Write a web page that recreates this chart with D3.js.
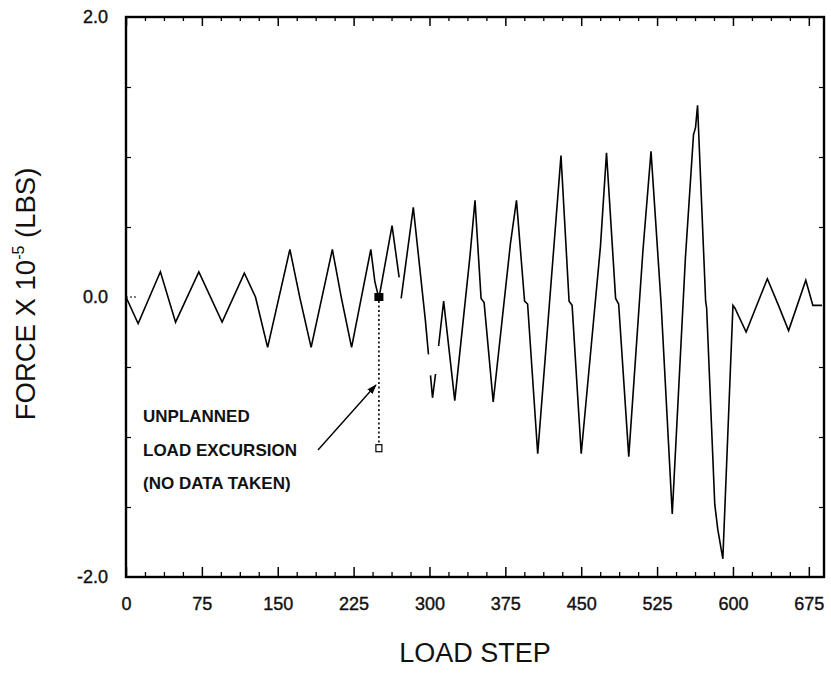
<!DOCTYPE html>
<html>
<head>
<meta charset="utf-8">
<script src="https://cdn.jsdelivr.net/npm/d3@7"></script>
<style>
body{margin:0;background:#fff;}
svg{display:block;font-family:"Liberation Sans",Arial,sans-serif;}
</style>
</head>
<body>
<svg id="chart" width="831" height="673"></svg>
<script>
var loadStep = [0,12,34,49,72,95,117,128,140,162,172,183,204,213,223,242,246,250,263,270,
    271,
    272,284,296,299,
    300,
    301,303,306,
    307.5,
    309,314,325,340,345,351,354,363,380,386,394,397,407,430,438,441,450,469,475,484,487,497,
    511,519,529,540,553,561,563,565,573,574,582,585,590,600,602,613,634,645,655,672,679,688];
var force = [0,-0.19,0.18,-0.18,0.18,-0.18,0.17,0,-0.36,0.34,-0.01,-0.36,0.34,-0.01,-0.36,0.34,0.11,-0.01,0.51,0.14,
    null,
    -0.01,0.64,-0.17,-0.41,
    null,
    -0.56,-0.72,-0.55,
    null,
    -0.35,-0.03,-0.74,0.29,0.69,-0.01,-0.04,-0.75,0.38,0.69,-0.03,-0.05,-1.12,1.01,-0.03,-0.06,-1.12,0.36,1.03,-0.01,-0.05,-1.14,
    0.33,1.04,-0.05,-1.55,0.28,1.16,1.21,1.37,-0.03,-0.08,-1.48,-1.66,-1.87,-0.06,-0.08,-0.25,0.13,-0.06,-0.24,0.12,-0.06,-0.06];
var xMajorTicks = [0,75,150,225,300,375,450,525,600,675];
var yLabelTicks = [-2,0,2];
var yMinorTicks = [-1.5,-1,-0.5,0.5,1,1.5];
var excursionStep = 250;
var excursionForce = [0,-1.08];
var noteLines = ["UNPLANNED","LOAD EXCURSION","(NO DATA TAKEN)"];

var svg = d3.select("#chart");
var pL = 126, pR = 824, pT = 17, pB = 577;
var x = d3.scaleLinear().domain([0,690]).range([pL,pR]);
var y = d3.scaleLinear().domain([-2,2]).range([pB,pT]);

var xMinorTicks = d3.range(0,691,18.75).filter(function(d){ return d % 75 !== 0; });

function noDomain(g){ g.select(".domain").remove(); }
function labelStyle(sel){
    sel.attr("font-size",18).attr("fill","#111").attr("font-family","Liberation Sans, Arial, sans-serif")
        .attr("stroke","#111").attr("stroke-width",0.4);
}

// bottom axis, ticks pointing in
svg.append("g").attr("transform","translate(0,"+pB+")")
    .call(d3.axisBottom(x).tickValues(xMajorTicks).tickSize(-10).tickPadding(20))
    .call(noDomain)
    .call(function(g){
        g.selectAll("text").call(labelStyle);
        g.selectAll("line").attr("stroke-width",1.5);
    });
svg.append("g").attr("transform","translate(0,"+pB+")")
    .call(d3.axisBottom(x).tickValues(xMinorTicks).tickSize(-5).tickFormat(""))
    .call(noDomain).selectAll("line").attr("stroke-width",1.3);

// top axis
svg.append("g").attr("transform","translate(0,"+pT+")")
    .call(d3.axisTop(x).tickValues(xMajorTicks).tickSize(-9).tickFormat(""))
    .call(noDomain).selectAll("line").attr("stroke-width",1.5);
svg.append("g").attr("transform","translate(0,"+pT+")")
    .call(d3.axisTop(x).tickValues(xMinorTicks).tickSize(-4).tickFormat(""))
    .call(noDomain).selectAll("line").attr("stroke-width",1.3);

// left axis labels and ticks
svg.append("g").attr("transform","translate("+pL+",0)")
    .call(d3.axisLeft(y).tickValues(yLabelTicks).tickSize(0).tickPadding(18)
        .tickFormat(function(d){ return d.toFixed(1); }))
    .call(noDomain)
    .selectAll("text").call(labelStyle);
svg.append("g").attr("transform","translate("+pL+",0)")
    .call(d3.axisLeft(y).tickValues(yMinorTicks).tickSize(-5).tickFormat(""))
    .call(noDomain).selectAll("line").attr("stroke-width",1.2);
svg.append("line")
    .attr("x1",pL).attr("x2",pL+11).attr("y1",y(0)).attr("y2",y(0))
    .attr("stroke","#000").attr("stroke-width",1).attr("stroke-dasharray","2,2");
svg.append("g").attr("transform","translate("+pR+",0)")
    .call(d3.axisRight(y).tickValues(yMinorTicks).tickSize(-5).tickFormat(""))
    .call(noDomain).selectAll("line").attr("stroke-width",1.2);

// frame
svg.append("rect")
    .attr("x",pL).attr("y",pT).attr("width",pR-pL).attr("height",pB-pT)
    .attr("fill","none").attr("stroke","#000").attr("stroke-width",2.4);

// trace
var pts = loadStep.map(function(s,i){ return {s:s, f:force[i]}; });
var line = d3.line()
    .defined(function(d){ return d.f !== null; })
    .x(function(d){ return x(d.s); })
    .y(function(d){ return y(d.f); });
svg.append("path").datum(pts)
    .attr("d",line)
    .attr("fill","none").attr("stroke","#000").attr("stroke-width",1.6)
    .attr("stroke-linejoin","miter");

// unplanned excursion markers
var ex = x(excursionStep);
svg.append("line")
    .attr("x1",ex).attr("x2",ex)
    .attr("y1",y(excursionForce[0])+4).attr("y2",y(excursionForce[1])-4)
    .attr("stroke","#000").attr("stroke-width",1.6).attr("stroke-dasharray","2,2.5");
svg.append("rect")
    .attr("x",ex-4.5).attr("y",y(excursionForce[0])-4).attr("width",9).attr("height",8)
    .attr("fill","#000");
svg.append("rect")
    .attr("x",ex-3).attr("y",y(excursionForce[1])-3.5).attr("width",6).attr("height",7)
    .attr("fill","#fff").attr("stroke","#000").attr("stroke-width",1.2);

// note and arrow
svg.append("defs").append("marker")
    .attr("id","head").attr("viewBox","0 0 10 10").attr("refX",9).attr("refY",5)
    .attr("markerWidth",10).attr("markerHeight",10).attr("markerUnits","userSpaceOnUse")
    .attr("orient","auto")
    .append("path").attr("d","M0,1.5L10,5L0,8.5Z").attr("fill","#000");
svg.append("line")
    .attr("x1",318).attr("y1",450).attr("x2",ex-3).attr("y2",385)
    .attr("stroke","#000").attr("stroke-width",1.4).attr("marker-end","url(#head)");
svg.append("g").selectAll("text").data(noteLines).enter().append("text")
    .attr("x",143).attr("y",function(d,i){ return 422 + i*33.5; })
    .attr("font-size",17).attr("font-weight","bold").attr("fill","#111")
    .text(function(d){ return d; });

// axis titles
svg.append("text")
    .attr("x",(pL+pR)/2).attr("y",662).attr("text-anchor","middle")
    .attr("font-size",27).attr("fill","#111").text("LOAD STEP");
var yt = svg.append("text")
    .attr("transform","translate(35,294) rotate(-90)").attr("text-anchor","middle")
    .attr("font-size",27.5).attr("fill","#111");
yt.append("tspan").text("FORCE X 10");
yt.append("tspan").attr("font-size",16).attr("dy",-11).text("-5");
yt.append("tspan").attr("dy",11).text(" (LBS)");
</script>
</body>
</html>
